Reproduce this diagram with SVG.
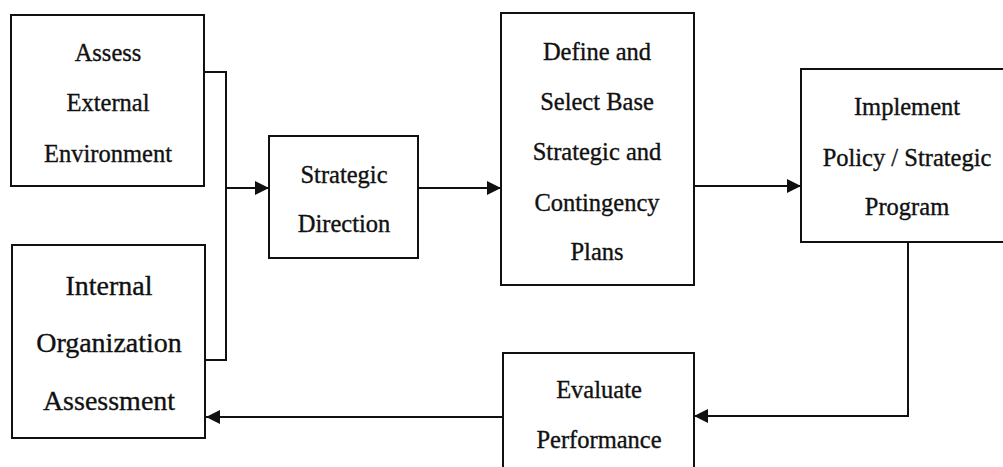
<svg xmlns="http://www.w3.org/2000/svg" width="1003" height="467" viewBox="0 0 1003 467">
<style>
.box{fill:#fff;stroke:#111;stroke-width:2}
.t{font-family:"Liberation Serif","Times New Roman",serif;font-size:24.5px;fill:#111;stroke:#111;stroke-width:0.35;text-anchor:middle}
.tl{font-size:28px}
.c{fill:none;stroke:#111;stroke-width:2}
</style>
<defs>
<marker id="ah" markerWidth="14" markerHeight="14" refX="14" refY="7" orient="auto" markerUnits="userSpaceOnUse">
<path d="M0,0 L14,7 L0,14 Z" fill="#111"/>
</marker>
</defs>
<rect width="1003" height="467" fill="#fff"/>
<g id="connectors">
<polyline class="c" points="204,72 226,72 226,360 205,360"/>
<line class="c" x1="226" y1="188" x2="269" y2="188" marker-end="url(#ah)"/>
<line class="c" x1="418" y1="188" x2="501" y2="188" marker-end="url(#ah)"/>
<line class="c" x1="694" y1="186" x2="801" y2="186" marker-end="url(#ah)"/>
<polyline class="c" points="908,242 908,416 694,416" marker-end="url(#ah)"/>
<line class="c" x1="503" y1="417" x2="206" y2="417" marker-end="url(#ah)"/>
</g>
<g id="assess-external">
<rect class="box" x="11" y="15" width="193" height="171"/>
<text class="t" x="108" y="61">Assess</text>
<text class="t" x="108" y="111">External</text>
<text class="t" x="108" y="162">Environment</text>
</g>
<g id="internal-organization">
<rect class="box" x="12" y="245" width="193" height="193"/>
<text class="t tl" x="109" y="295">Internal</text>
<text class="t tl" x="109" y="352">Organization</text>
<text class="t tl" x="109" y="410">Assessment</text>
</g>
<g id="strategic-direction">
<rect class="box" x="269" y="136" width="149" height="122"/>
<text class="t" x="344" y="183">Strategic</text>
<text class="t" x="344" y="232">Direction</text>
</g>
<g id="define-plans">
<rect class="box" x="501" y="13" width="193" height="272"/>
<text class="t" x="597" y="60">Define and</text>
<text class="t" x="597" y="110">Select Base</text>
<text class="t" x="597" y="160">Strategic and</text>
<text class="t" x="597" y="211">Contingency</text>
<text class="t" x="597" y="260">Plans</text>
</g>
<g id="implement-program">
<rect class="box" x="801" y="69" width="212" height="173"/>
<text class="t" x="907" y="115">Implement</text>
<text class="t" x="907" y="166">Policy / Strategic</text>
<text class="t" x="907" y="215">Program</text>
</g>
<g id="evaluate-performance">
<rect class="box" x="503" y="353" width="191" height="130"/>
<text class="t" x="599" y="398">Evaluate</text>
<text class="t" x="599" y="448">Performance</text>
</g>
</svg>
